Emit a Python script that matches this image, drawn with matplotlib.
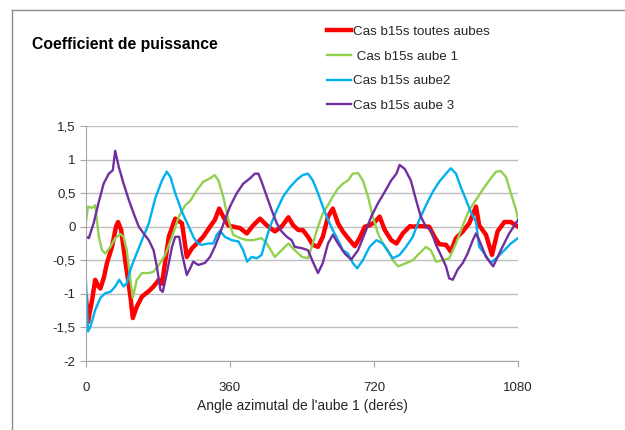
import numpy as np
import matplotlib
matplotlib.use('Agg')
import matplotlib.pyplot as plt
from matplotlib.lines import Line2D

plt.rcParams['font.family'] = ['Liberation Sans', 'DejaVu Sans']

# Cas b15s toutes aubes
red_deg = [0, 5, 15, 23, 30, 36, 45, 52, 65, 75, 80, 88, 98, 111, 117, 127, 140, 157, 169, 182,
           190, 207, 223, 240, 252, 265, 277, 293, 310, 322, 333, 343, 356, 368, 385, 402, 418,
           435, 452, 472, 489, 506, 518, 531, 542, 555, 567, 580, 592, 605, 617, 630, 642, 655,
           672, 684, 697, 709, 722, 734, 747, 763, 776, 792, 810, 817, 833, 858, 871, 883, 900,
           912, 925, 942, 958, 975, 983, 1000, 1015, 1029, 1046, 1062, 1080]
red_val = [-1.05, -1.42, -1.1, -0.79, -0.88, -0.92, -0.75, -0.55, -0.30, 0.0, 0.07, -0.05, -0.50,
           -1.04, -1.36, -1.19, -1.04, -0.96, -0.89, -0.79, -0.85, -0.15, 0.12, 0.05, -0.45, -0.32,
           -0.25, -0.15, 0.0, 0.10, 0.27, 0.15, 0.02, 0.0, -0.02, -0.10, 0.02, 0.12, 0.02, -0.07,
           0.0, 0.14, 0.02, -0.05, -0.05, -0.15, -0.27, -0.30, -0.15, 0.15, 0.27, 0.05, -0.07,
           -0.17, -0.29, -0.17, 0.0, 0.02, 0.07, 0.15, -0.05, -0.20, -0.25, -0.10, 0.01, 0.0, 0.01,
           0.0, -0.15, -0.26, -0.27, -0.37, -0.17, -0.07, 0.05, 0.30, 0.02, -0.12, -0.42, -0.07,
           0.07, 0.07, 0.0]

# Cas b15s aube 1
green_deg = [0, 5, 15, 23, 32, 40, 48, 61, 73, 86, 94, 102, 111, 117, 127, 140, 157, 169, 182,
             198, 215, 232, 248, 260, 277, 293, 310, 322, 331, 343, 356, 368, 385, 402, 418, 439,
             452, 472, 489, 506, 522, 540, 555, 567, 580, 592, 605, 617, 630, 642, 655, 667, 680,
             692, 705, 717, 730, 742, 755, 767, 780, 797, 817, 833, 850, 862, 875, 892, 908, 925,
             942, 958, 975, 996, 1012, 1025, 1037, 1050, 1062, 1075, 1080]
green_val = [0.08, 0.30, 0.28, 0.32, -0.15, -0.35, -0.40, -0.30, -0.17, -0.11, -0.15, -0.35,
             -0.79, -1.06, -0.79, -0.69, -0.69, -0.67, -0.57, -0.42, -0.15, 0.15, 0.32, 0.38,
             0.54, 0.67, 0.72, 0.77, 0.69, 0.45, 0.10, -0.12, -0.17, -0.20, -0.20, -0.17, -0.25,
             -0.45, -0.35, -0.25, -0.35, -0.45, -0.47, -0.25, 0.0, 0.20, 0.32, 0.45, 0.57, 0.64,
             0.69, 0.79, 0.80, 0.69, 0.45, 0.15, -0.10, -0.25, -0.35, -0.50, -0.59, -0.55, -0.50,
             -0.40, -0.30, -0.35, -0.52, -0.50, -0.47, -0.25, 0.02, 0.25, 0.40, 0.59, 0.72, 0.82,
             0.83, 0.74, 0.50, 0.25, 0.12]

# Cas b15s aube2
blue_deg = [0, 5, 11, 23, 36, 48, 61, 73, 83, 94, 102, 111, 123, 140, 157, 173, 190, 202, 211,
            223, 240, 257, 270, 280, 289, 306, 318, 327, 335, 347, 364, 381, 393, 403, 414, 427,
            439, 447, 460, 477, 493, 510, 527, 542, 555, 567, 580, 592, 605, 617, 630, 642, 655,
            667, 678, 692, 709, 726, 742, 755, 767, 784, 800, 817, 833, 850, 867, 883, 900, 912,
            925, 937, 950, 962, 975, 983, 996, 1012, 1029, 1046, 1062, 1080]
blue_val = [-0.82, -1.56, -1.49, -1.24, -1.06, -0.99, -0.97, -0.89, -0.79, -0.89, -0.84, -0.64,
            -0.45, -0.20, 0.05, 0.42, 0.69, 0.82, 0.74, 0.50, 0.22, 0.0, -0.17, -0.25, -0.27,
            -0.25, -0.25, -0.12, -0.06, -0.15, -0.20, -0.22, -0.35, -0.52, -0.45, -0.47, -0.42,
            -0.25, 0.0, 0.25, 0.45, 0.59, 0.70, 0.77, 0.79, 0.69, 0.50, 0.30, 0.10, -0.05, -0.20,
            -0.35, -0.40, -0.54, -0.62, -0.50, -0.30, -0.20, -0.25, -0.37, -0.47, -0.42, -0.30,
            -0.15, 0.10, 0.32, 0.52, 0.67, 0.79, 0.87, 0.79, 0.59, 0.40, 0.22, 0.07, -0.30, -0.40,
            -0.54, -0.45, -0.35, -0.25, -0.17]

# Cas b15s aube 3
purple_deg = [0, 7, 19, 32, 44, 57, 67, 73, 82, 94, 107, 119, 132, 144, 157, 169, 177, 186, 192,
              202, 215, 223, 233, 240, 252, 262, 268, 281, 297, 310, 322, 335, 347, 360, 377, 393,
              410, 422, 431, 439, 452, 464, 477, 489, 502, 514, 522, 540, 555, 567, 580, 592, 605,
              617, 630, 647, 663, 680, 697, 713, 730, 747, 763, 776, 784, 797, 812, 825, 837, 850,
              862, 875, 887, 900, 908, 917, 929, 942, 954, 967, 975, 983, 1000, 1018, 1037, 1058,
              1080]
purple_val = [-0.15, -0.17, 0.05, 0.37, 0.64, 0.79, 0.84, 1.13, 0.89, 0.64, 0.40, 0.20, 0.0,
              -0.10, -0.20, -0.35, -0.59, -0.94, -0.97, -0.69, -0.30, -0.15, -0.15, -0.40, -0.72,
              -0.60, -0.52, -0.57, -0.54, -0.45, -0.30, -0.10, 0.10, 0.30, 0.50, 0.64, 0.72, 0.79,
              0.79, 0.67, 0.45, 0.25, 0.05, -0.07, -0.15, -0.20, -0.30, -0.32, -0.35, -0.52,
              -0.69, -0.54, -0.25, -0.12, -0.25, -0.40, -0.49, -0.35, -0.10, 0.15, 0.35, 0.52,
              0.69, 0.79, 0.92, 0.86, 0.69, 0.40, 0.15, 0.0, -0.05, -0.27, -0.42, -0.59, -0.77,
              -0.79, -0.64, -0.54, -0.40, -0.20, -0.10, -0.20, -0.45, -0.59, -0.35, -0.10, 0.10]

labels = ['Cas b15s toutes aubes', ' Cas b15s aube 1', 'Cas b15s aube2', 'Cas b15s aube 3']
x_ticks = [0, 360, 720, 1080]
y_ticks = [-2, -1.5, -1, -0.5, 0, 0.5, 1, 1.5]
y_tick_labels = ['-2', '-1,5', '-1', '-0,5', '0', '0,5', '1', '1,5']

fig = plt.figure(figsize=(6.25, 4.3), dpi=100)
ax = fig.add_axes([86/625, 1 - 361/430, 432/625, 235/430])

ax.plot(red_deg, red_val, color='#ff0000', lw=3.2, solid_joinstyle='round', label=labels[0])
ax.plot(green_deg, green_val, color='#92d050', lw=1.7, solid_joinstyle='round', label=labels[1])
ax.plot(blue_deg, blue_val, color='#00b0f0', lw=1.7, solid_joinstyle='round', label=labels[2])
ax.plot(purple_deg, purple_val, color='#7030a0', lw=1.7, solid_joinstyle='round', label=labels[3])

ax.set_xlim(0, 1080)
ax.set_ylim(-2, 1.5)
ax.set_xticks(x_ticks)
ax.set_yticks(y_ticks)
ax.set_yticklabels(y_tick_labels)
ax.grid(axis='y', color='#bfbfbf', lw=1.0)
ax.set_axisbelow(True)
for s in ['top', 'right']:
    ax.spines[s].set_visible(False)
for s in ['left', 'bottom']:
    ax.spines[s].set_color('#a6a6a6')
ax.tick_params(axis='both', colors='#a6a6a6', labelcolor='#262626', labelsize=9.5, length=4)
ax.tick_params(axis='x', pad=11)
ax.set_xlabel("Angle azimutal de l'aube 1 (derés)", fontsize=10, color='#262626', labelpad=4)

fig.text(32/625, 1 - 45/430, 'Coefficient de puissance', fontsize=11.3, fontweight='bold',
         va='center', ha='left', color='black')

fig.legend(loc='upper left', bbox_to_anchor=(320/625, 1 - 19/430), frameon=False,
           fontsize=9.6, handlelength=1.8, handletextpad=0.15, labelspacing=0.92,
           borderpad=0, labelcolor='#262626')

# outer frame: only top and left edges are visible
fig.add_artist(Line2D([12/625, 1], [1 - 10/430, 1 - 10/430], transform=fig.transFigure,
                      color='#8c8c8c', lw=1.0))
fig.add_artist(Line2D([12/625, 12/625], [0, 1 - 10/430], transform=fig.transFigure,
                      color='#8c8c8c', lw=1.0))

fig.savefig('out.png', dpi=100)
